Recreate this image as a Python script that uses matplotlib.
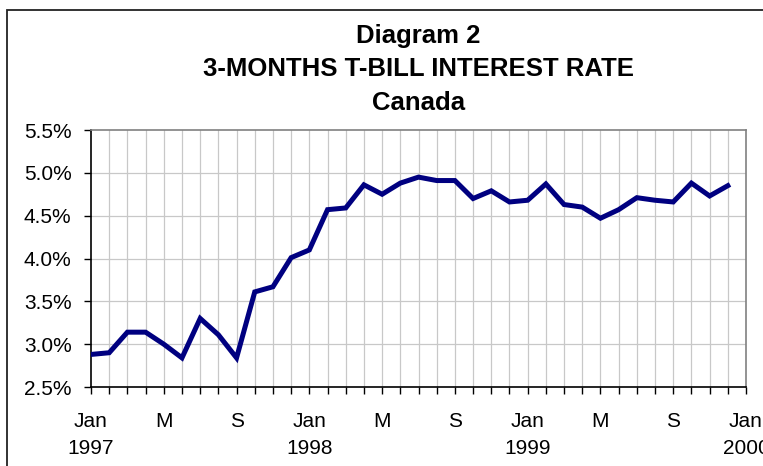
# 3-month T-bill rate, Canada, monthly Jan 1997 - Dec 1999
import matplotlib
matplotlib.use('Agg')
import matplotlib.pyplot as plt
from matplotlib.patches import Rectangle
import numpy as np

plt.rcParams['font.family'] = ['Liberation Sans', 'DejaVu Sans']

# data (percent)
rate = [2.88, 2.90, 3.14, 3.14, 3.00, 2.84, 3.30, 3.11, 2.84, 3.61, 3.67, 4.01,
        4.10, 4.57, 4.59, 4.86, 4.75, 4.88, 4.95, 4.91, 4.91, 4.70, 4.79, 4.66,
        4.68, 4.87, 4.63, 4.60, 4.47, 4.57, 4.71, 4.68, 4.66, 4.88, 4.73, 4.85]
month_idx = np.arange(len(rate))

tick_pos = [0, 4, 8, 12, 16, 20, 24, 28, 32, 36]
tick_labels = ['Jan\n1997', 'M', 'S', 'Jan\n1998', 'M', 'S',
               'Jan\n1999', 'M', 'S', 'Jan\n2000']
y_ticks = [2.5, 3.0, 3.5, 4.0, 4.5, 5.0, 5.5]
title_lines = ['Diagram 2', '3-MONTHS T-BILL INTEREST RATE', 'Canada']

fig = plt.figure(figsize=(7.63, 4.66), dpi=100)
ax = fig.add_axes([91/763, 1 - 387/466, (746 - 91)/763, (387 - 130)/466])

# monthly vertical grid + horizontal grid
for m in range(1, 36):
    ax.axvline(m, color='#c8c8c8', lw=0.9, zorder=1)
for y in y_ticks[1:-1]:
    ax.axhline(y, color='#c8c8c8', lw=0.9, zorder=1)

ax.plot(month_idx, rate, color='#000080', lw=3.6, solid_joinstyle='miter', zorder=3)

ax.set_xlim(0, 36)
ax.set_ylim(2.5, 5.5)
ax.set_yticks(y_ticks)
ax.set_yticklabels(['%.1f%%' % v for v in y_ticks], fontsize=15)
ax.set_xticks(tick_pos)
ax.set_xticklabels(tick_labels, fontsize=15, linespacing=1.55)
ax.set_xticks(np.arange(37), minor=True)
ax.tick_params(axis='x', which='both', direction='out', length=5, width=1, pad=13)
ax.tick_params(axis='y', direction='out', length=5, width=1, pad=9)

for s in ['top', 'right']:
    ax.spines[s].set_color('#808080')
    ax.spines[s].set_linewidth(1.2)
for s in ['left', 'bottom']:
    ax.spines[s].set_color('black')
    ax.spines[s].set_linewidth(1.2)

for i, line in enumerate(title_lines):
    fig.text(418.5/763, 1 - (43.5 + 33*i)/466, line, ha='center', va='baseline',
             fontsize=18.5, fontweight='bold')

# outer chart frame (cropped on right and bottom)
fig.patches.append(Rectangle((7/763, -0.1), 1.2, 1.1 - 10/466, transform=fig.transFigure,
                             fill=False, edgecolor='#222222', lw=1.3))

fig.savefig('out.png', dpi=100)
